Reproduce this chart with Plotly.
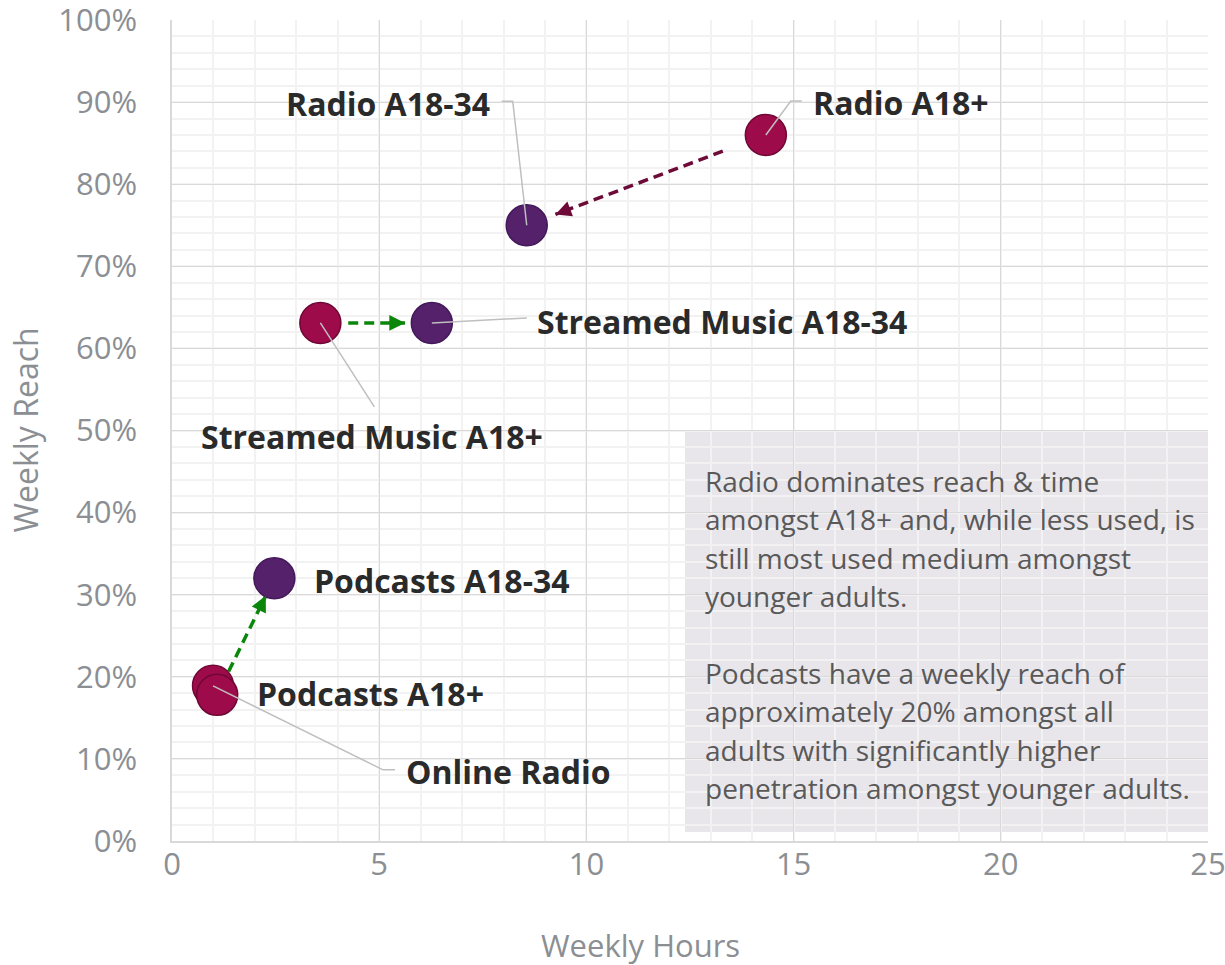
import plotly.graph_objects as go

# ---------------- data ----------------
names = ["Radio A18+", "Radio A18-34", "Streamed Music A18+", "Streamed Music A18-34",
         "Podcasts A18-34", "Online Radio", "Podcasts A18+"]
weekly_hours = [14.33, 8.56, 3.58, 6.27, 2.47, 0.99, 1.09]
weekly_reach = [86.0, 75.0, 63.1, 63.1, 32.0, 18.9, 17.8]
groups = ["A18+", "A18-34", "A18+", "A18-34", "A18-34", "A18+", "A18+"]

x_tick_vals = [0, 5, 10, 15, 20, 25]
y_tick_vals = [0, 10, 20, 30, 40, 50, 60, 70, 80, 90, 100]
y_tick_labels = [f"{v}%" for v in y_tick_vals]

arrow_pairs = [("Radio A18+", "Radio A18-34"),
               ("Streamed Music A18+", "Streamed Music A18-34"),
               ("Podcasts A18+", "Podcasts A18-34")]

note_lines = ["Radio dominates reach & time",
              "amongst A18+ and, while less used, is",
              "still most used medium amongst",
              "younger adults.",
              "",
              "Podcasts have a weekly reach of",
              "approximately 20% amongst all",
              "adults with significantly higher",
              "penetration amongst younger adults."]

# ---------------- styles ----------------
W, H = 1225, 965
ML, MR, MT, MB = 172, 17, 20, 124
PW, PH = W - ML - MR, H - MT - MB
X_RANGE, Y_RANGE = 25.0, 100.0
FONT = "Open Sans"
TICK_COLOR = "#8b8f94"
LABEL_COLOR = "#2a2a2a"
fill = {"A18+": "#9e0b4b", "A18-34": "#55216a"}
edge = {"A18+": "#6e0733", "A18-34": "#42185a"}
arrow_style = {"Radio A18+": ("#6d0a37", 0.18, 0.88),
               "Streamed Music A18+": ("#0a870a", 0.25, 0.76),
               "Podcasts A18+": ("#0a870a", 0.20, 0.85)}

# label placement in screen pixels relative to the point (y up)
label_pos = {
    "Radio A18-34": (-35, 122, "right", "M0,0 L-14,124 L-25,124"),
    "Radio A18+": (45, 32, "left", "M0,0 L25,34 L36,34"),
    "Streamed Music A18-34": (103, 1, "left", "M0,0 L95,5"),
    "Streamed Music A18+": (52, -114, "center", "M0,0 L54,-84"),
    "Podcasts A18-34": (38, -2, "left", None),
    "Podcasts A18+": (38, 1, "left", None),
    "Online Radio": (191, -86, "left", "M0,0 L170,-84 L182,-84"),
}

idx = {n: i for i, n in enumerate(names)}

fig = go.Figure()
shapes = []
annotations = []

# arrows (dashed line + solid arrowhead)
for a, b in arrow_pairs:
    col, f0, f1 = arrow_style[a]
    xa, ya = weekly_hours[idx[a]], weekly_reach[idx[a]]
    xb, yb = weekly_hours[idx[b]], weekly_reach[idx[b]]
    xs = [xa + f0 * (xb - xa), xa + f1 * (xb - xa)]
    ys = [ya + f0 * (yb - ya), ya + f1 * (yb - ya)]
    fig.add_trace(go.Scatter(
        x=xs, y=ys, mode="lines",
        line=dict(color=col, width=3.5, dash="10px,6px"),
        hoverinfo="skip", showlegend=False))
    # direction in screen pixels
    ux = (xb - xa) * PW / X_RANGE
    uy = -(yb - ya) * PH / Y_RANGE
    norm = (ux ** 2 + uy ** 2) ** 0.5
    annotations.append(dict(x=xs[1], y=ys[1], xref="x", yref="y",
                            ax=-ux / norm * 10, ay=-uy / norm * 10,
                            showarrow=True, arrowhead=2, arrowsize=0.9,
                            arrowwidth=3.5, arrowcolor=col, text="", standoff=0))

# points
fig.add_trace(go.Scatter(
    x=weekly_hours, y=weekly_reach, mode="markers", text=names,
    marker=dict(size=41, color=[fill[g] for g in groups],
                line=dict(color=[edge[g] for g in groups], width=1.5)),
    hovertemplate="%{text}<br>%{x} h<br>%{y}%<extra></extra>",
    showlegend=False))

# note box
box_x0 = (685 - ML) / PW
box_y0 = (841 - 832) / PH
box_y1 = (841 - 432) / PH
shapes.append(dict(type="rect", xref="paper", yref="paper",
                   x0=box_x0, x1=1.0, y0=box_y0, y1=box_y1,
                   fillcolor="#e8e6eb", line=dict(width=0), layer="between"))
for i, line in enumerate(note_lines):
    if not line:
        continue
    ypx = 481 + i * 38.4
    annotations.append(dict(xref="paper", yref="paper",
                            x=(703 - ML) / PW, y=(841 - ypx) / PH,
                            xanchor="left", yanchor="middle", showarrow=False,
                            text=line, font=dict(family=FONT, size=28, color="#595959")))

# labels + leader lines
for n, (dx, dy, anchor, path) in label_pos.items():
    x, y = weekly_hours[idx[n]], weekly_reach[idx[n]]
    annotations.append(dict(x=x, y=y, xref="x", yref="y", text=f"<b>{n}</b>",
                            showarrow=False, xanchor=anchor, yanchor="middle",
                            xshift=dx, yshift=dy,
                            font=dict(family=FONT, size=32, color=LABEL_COLOR)))
    if path:
        shapes.append(dict(type="path", xref="x", yref="y",
                           xsizemode="pixel", ysizemode="pixel",
                           xanchor=x, yanchor=y, path=path,
                           line=dict(color="#bfbfbf", width=1.5), layer="above"))

# axis titles
annotations.append(dict(xref="paper", yref="paper", x=(640 - ML) / PW, y=(841 - 945) / PH,
                        xanchor="center", yanchor="middle", showarrow=False,
                        text="Weekly Hours", font=dict(family=FONT, size=31, color=TICK_COLOR)))
annotations.append(dict(xref="paper", yref="paper", x=(25 - ML) / PW, y=0.5,
                        xanchor="center", yanchor="middle", showarrow=False, textangle=-90,
                        text="Weekly Reach", font=dict(family=FONT, size=32, color=TICK_COLOR)))

fig.update_layout(
    width=W, height=H,
    margin=dict(l=ML, r=MR, t=MT, b=MB, autoexpand=False),
    paper_bgcolor="white", plot_bgcolor="white",
    font=dict(family=FONT, color=TICK_COLOR),
    shapes=shapes, annotations=annotations,
    xaxis=dict(range=[0, X_RANGE], tickvals=x_tick_vals, showgrid=True,
               gridcolor="#d9d9d9", gridwidth=1.3, zeroline=False,
               showline=True, linecolor="#d9d9d9", linewidth=1.5,
               tickfont=dict(family=FONT, size=31, color=TICK_COLOR),
               ticks="", ticklen=0, ticklabelstandoff=-5, automargin=False,
               ticklabeloverflow="allow",
               minor=dict(dtick=1, showgrid=True, gridcolor="#f2f2f2", gridwidth=1.5),
               fixedrange=True),
    yaxis=dict(range=[0, Y_RANGE], tickvals=y_tick_vals, ticktext=y_tick_labels, showgrid=True,
               gridcolor="#d9d9d9", gridwidth=1.3, zeroline=False,
               showline=True, linecolor="#d9d9d9", linewidth=1.5,
               tickfont=dict(family=FONT, size=31, color=TICK_COLOR),
               ticks="", ticklen=0, ticklabelstandoff=27, automargin=False,
               ticklabeloverflow="allow",
               minor=dict(dtick=2, showgrid=True, gridcolor="#f2f2f2", gridwidth=1.5),
               fixedrange=True),
)

fig.write_html("out.html", config={"displayModeBar": False},
               post_script="document.body.style.margin='0px';")
